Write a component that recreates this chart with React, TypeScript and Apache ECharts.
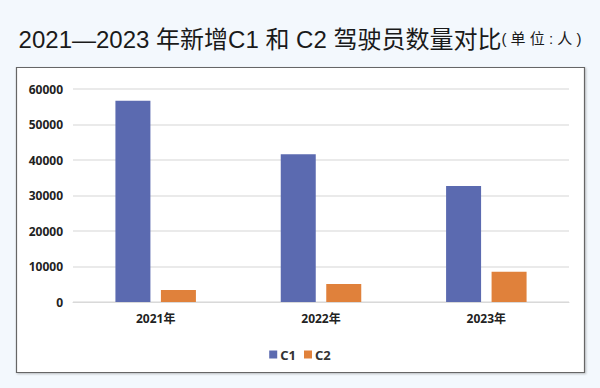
import React, { useEffect, useRef } from "react";
import * as echarts from "echarts";

const categories = ["2021年", "2022年", "2023年"];
const c1Values = [56700, 41600, 32700];
const c2Values = [3400, 5100, 8500];
const yTicks = [0, 10000, 20000, 30000, 40000, 50000, 60000];

export default function App() {
  const ref = useRef<HTMLDivElement>(null);
  useEffect(() => {
    if (!ref.current) return;
    const chart = echarts.init(ref.current, undefined, { renderer: "svg" });
    chart.setOption({
      animation: false,
      backgroundColor: "#f3f8fd",
      textStyle: { fontFamily: "'Noto Sans', 'Noto Sans CJK SC', sans-serif" },
      graphic: [
        {
          type: "rect",
          shape: { x: 16.5, y: 67.5, width: 568, height: 305 },
          style: { fill: "#ffffff", stroke: "#666666", lineWidth: 1.2, shadowBlur: 2, shadowColor: "rgba(0,0,0,0.25)", shadowOffsetX: 1, shadowOffsetY: 1 },
          z: -10,
          silent: true,
        },
      ],
      title: {
        text: "{a|2021—2023 年新增C1 和 C2 驾驶员数量对比}{b|( 单 位 : 人 )}",
        left: "center",
        top: 22,
        textStyle: {
          rich: {
            a: { fontSize: 24, color: "#1a1a1a", fontFamily: "'Liberation Sans', 'Noto Sans CJK SC', sans-serif", fontWeight: "normal" },
            b: { fontSize: 15, color: "#1a1a1a", fontFamily: "'Liberation Sans', 'Noto Sans CJK SC', sans-serif", fontWeight: "normal" },
          },
        },
      },
      legend: {
        data: ["C1", "C2"],
        left: "center",
        top: 343,
        itemWidth: 8,
        itemHeight: 8,
        itemGap: 8,
        icon: "rect",
        textStyle: { fontSize: 13, fontWeight: "bold", color: "#333", padding: [0, 0, 0, -2] },
      },
      grid: { left: 73, right: 31, top: 89, bottom: 86, containLabel: false },
      xAxis: {
        type: "category",
        data: categories,
        axisLine: { lineStyle: { color: "#d9d9d9", width: 1 } },
        axisTick: { show: false },
        axisLabel: { fontSize: 12, fontWeight: "bold", color: "#222", margin: 10 },
      },
      yAxis: {
        type: "value",
        min: yTicks[0],
        max: yTicks[yTicks.length - 1],
        interval: 10000,
        axisLine: { show: false },
        axisTick: { show: false },
        splitLine: { lineStyle: { color: "#e3e3e3", width: 1.5 } },
        axisLabel: { fontSize: 12, fontWeight: "bold", color: "#222", margin: 10, formatter: (v: number) => String(v) },
      },
      series: [
        {
          name: "C1",
          type: "bar",
          data: c1Values,
          barWidth: 35,
          barGap: "30%",
          itemStyle: { color: "#5b6ab0" },
        },
        {
          name: "C2",
          type: "bar",
          data: c2Values,
          barWidth: 35,
          itemStyle: { color: "#e0813b" },
        },
      ],
    });
    return () => chart.dispose();
  }, []);
  return <div ref={ref} style={{ position: "fixed", left: 0, top: 0, width: 600, height: 388 }} />;
}
